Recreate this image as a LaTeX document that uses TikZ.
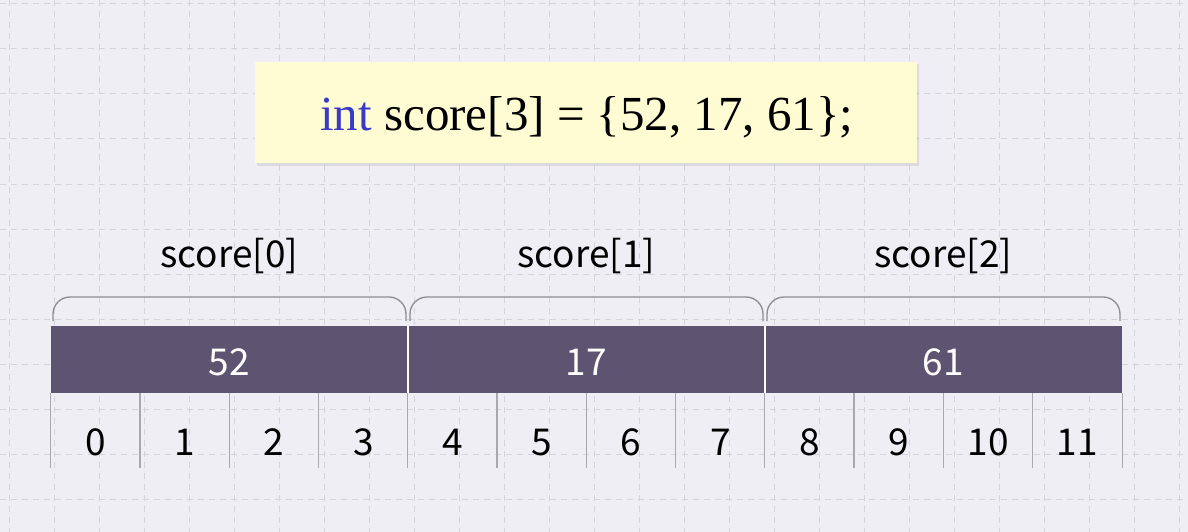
\documentclass[tikz,border=0pt]{standalone}
\usepackage{fontspec}
\setmainfont{Liberation Serif}
\newfontfamily\uisans{Noto Sans CJK SC}
\usetikzlibrary{shadows,calc}
\definecolor{bgc}{HTML}{EEEEF4}
\definecolor{gridc}{HTML}{D3D3DB}
\definecolor{codebg}{HTML}{FFFCD4}
\definecolor{kwc}{HTML}{3A3AC8}
\definecolor{barc}{HTML}{5C5470}
\definecolor{bracec}{HTML}{8C8C92}
\definecolor{celllinec}{HTML}{A8A8B0}
\tikzset{
  gridline/.style={gridc, line width=1pt, dash pattern=on 6pt off 5pt},
  codebox/.style={fill=codebg, draw=none, minimum width=662pt, minimum height=101pt, inner sep=0pt,
    drop shadow={opacity=0.18, shadow xshift=1.5pt, shadow yshift=-2.5pt}},
  grouplabel/.style={font=\uisans\fontsize{37}{44}\selectfont, text=black, inner sep=0pt, anchor=base},
  bracepath/.style={bracec, line width=1.3pt, rounded corners=17pt},
  valbox/.style={fill=barc, draw=none, minimum width=357pt, minimum height=67pt, inner sep=0pt},
  valtext/.style={text=white, font=\uisans\fontsize{37}{44}\selectfont, inner sep=0pt, anchor=base},
  sepline/.style={white, line width=2.2pt},
  cellrule/.style={celllinec, line width=1.2pt},
  cellnum/.style={font=\uisans\fontsize{37}{44}\selectfont, text=black, inner sep=0pt,
    minimum width=89.25pt, anchor=base},
}
\begin{document}
\begin{tikzpicture}[x=1pt, y=-1pt]
  \fill[bgc] (0,0) rectangle (1188,532);
  \useasboundingbox (0,0) rectangle (1188,532);
  % grid
  \foreach \i in {0,...,26} { \draw[gridline] (9+45*\i,0) -- (9+45*\i,532); }
  \foreach \j in {0,...,11} { \draw[gridline] (0,4+45*\j) -- (1188,4+45*\j); }
  % code box
  \node[codebox] (code) at (586,112.5) {};
  \node[inner sep=0pt, anchor=base, font=\fontsize{49}{56}\selectfont] (codetext) at (587,131)
    {\textcolor{kwc}{int} score[3] = \{52, 17, 61\};};
  % values
  \foreach \k/\v in {0/52, 1/17, 2/61} {
    \node[valbox] (val\k) at (229.5+357*\k, 359.5) {};
    \node[valtext] (vt\k) at (229.5+357*\k, 375) {\v};
    \node[grouplabel] (lab\k) at (229.5+357*\k, 267) {score[\k]};
    \coordinate (bl\k) at (53+357*\k, 321);
    \coordinate (br\k) at (406+357*\k, 321);
    \draw[bracepath] (bl\k) -- ($(bl\k)+(0,-24)$) -- ($(br\k)+(0,-24)$) -- (br\k);
  }
  \draw[sepline] (val0.north east) -- (val0.south east);
  \draw[sepline] (val1.north east) -- (val1.south east);
  % cells
  \foreach \c in {0,...,11} {
    \node[cellnum] (cell\c) at (95.6+89.25*\c, 455) {\c};
  }
  \foreach \c in {0,...,11} {
    \draw[cellrule] (cell\c.west |- val0.south) -- ($(cell\c.west |- val0.south)+(0,75)$);
  }
  \draw[cellrule] (cell11.east |- val0.south) -- ($(cell11.east |- val0.south)+(0,75)$);
\end{tikzpicture}
\end{document}
